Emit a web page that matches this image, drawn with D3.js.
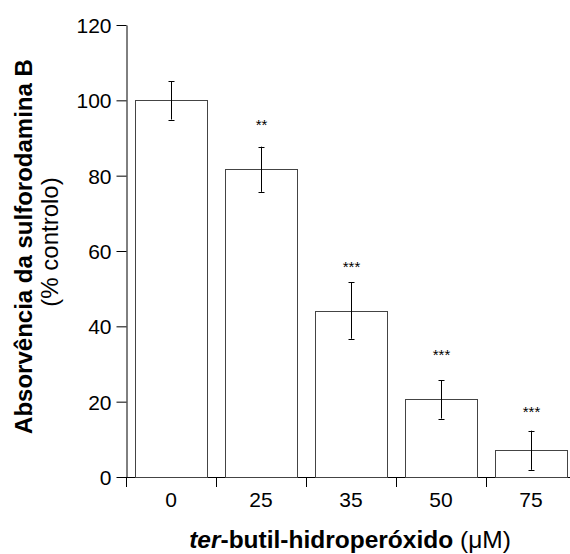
<!DOCTYPE html>
<html><head><meta charset="utf-8">
<script src="https://cdn.jsdelivr.net/npm/d3@7/dist/d3.min.js"></script>
<style>
body{margin:0;background:#fff;}
text{font-family:"Liberation Sans",Arial,Helvetica,sans-serif;fill:#000;}
</style></head>
<body><svg id="c" width="570" height="554"></svg>
<script>
const categories = ["0","25","35","50","75"];
const values = [100, 81.7, 44.2, 20.6, 7.1];
const errors = [5.1, 6.0, 7.5, 5.1, 5.2];
const significance = ["", "**", "***", "***", "***"];
const sigLevel = [0, 92.1, 54.5, 31.1, 15.9];
const yTicks = [0, 20, 40, 60, 80, 100, 120];

const svg = d3.select("#c");
const x0 = 126, x1 = 576, yb = 477, yt = 25;
const x = d3.scaleBand().domain(categories).range([x0, x1]).paddingInner(0.2).paddingOuter(0.1);
const y = d3.scaleLinear().domain([0, 120]).range([yb, yt]);

// Y axis
const ya = svg.append("g").attr("transform", `translate(${x0 + 0.5},0)`)
  .call(d3.axisLeft(y).tickValues(yTicks).tickSize(10).tickPadding(5).tickSizeOuter(0));
ya.selectAll("text").style("font-size", "21px").attr("dy", "0.36em");
ya.selectAll("path,line").attr("stroke", "#000");

// X axis line + boundary ticks
const g = svg.append("g");
g.append("line").attr("x1", x0).attr("x2", x1).attr("y1", yb + 0.5).attr("y2", yb + 0.5).attr("stroke", "#000");
const bounds = d3.range(categories.length + 1).map(i => x0 + i * (x1 - x0) / categories.length);
g.selectAll(".bt").data(bounds).enter().append("line")
  .attr("x1", d => Math.round(d) + 0.5).attr("x2", d => Math.round(d) + 0.5)
  .attr("y1", yb).attr("y2", yb + 10).attr("stroke", "#000");
g.selectAll(".xl").data(categories).enter().append("text")
  .attr("x", d => x(d) + x.bandwidth() / 2).attr("y", 507)
  .attr("text-anchor", "middle").style("font-size", "21px").text(d => d);

// Bars
svg.selectAll(".bar").data(categories).enter().append("rect")
  .attr("x", d => Math.round(x(d)) + 0.5)
  .attr("y", (d, i) => Math.round(y(values[i])) + 0.5)
  .attr("width", Math.round(x.bandwidth()))
  .attr("height", (d, i) => yb - Math.round(y(values[i])))
  .attr("fill", "#fff").attr("stroke", "#444").attr("stroke-width", 1);

// Error bars
const eg = svg.selectAll(".err").data(categories).enter().append("g")
  .attr("transform", d => `translate(${Math.round(x(d) + x.bandwidth() / 2) + 0.5},0)`);
eg.append("line").attr("y1", (d, i) => y(values[i] + errors[i])).attr("y2", (d, i) => y(values[i] - errors[i])).attr("stroke", "#000");
eg.append("line").attr("x1", -3).attr("x2", 3).attr("y1", (d, i) => Math.round(y(values[i] + errors[i])) + 0.5).attr("y2", (d, i) => Math.round(y(values[i] + errors[i])) + 0.5).attr("stroke", "#000");
eg.append("line").attr("x1", -3).attr("x2", 3).attr("y1", (d, i) => Math.round(y(values[i] - errors[i])) + 0.5).attr("y2", (d, i) => Math.round(y(values[i] - errors[i])) + 0.5).attr("stroke", "#000");
eg.append("text").attr("y", (d, i) => y(sigLevel[i])).attr("text-anchor", "middle")
  .style("font-size", "15px").text((d, i) => significance[i]);

// X title
const xt = svg.append("text").attr("x", 350).attr("y", 548).attr("text-anchor", "middle").style("font-size", "24.5px");
xt.append("tspan").style("font-weight", "bold").style("font-style", "italic").text("ter");
xt.append("tspan").style("font-weight", "bold").text("-butil-hidroperóxido");
xt.append("tspan").text(" (μM)");

// Y title
svg.append("text").attr("transform", "translate(32,246.5) rotate(-90)").attr("text-anchor", "middle")
  .style("font-size", "24px").style("font-weight", "bold").text("Absorvência da sulforodamina B");
svg.append("text").attr("transform", "translate(58,242) rotate(-90)").attr("text-anchor", "middle")
  .style("font-size", "24px").text("(% controlo)");
</script></body></html>
